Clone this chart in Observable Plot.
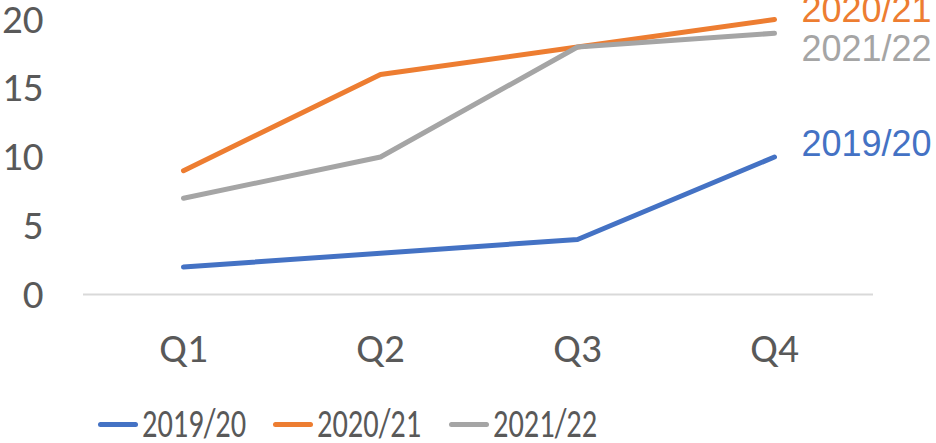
<!DOCTYPE html>
<html><head><meta charset="utf-8">
<script src="https://cdn.jsdelivr.net/npm/d3@7"></script>
<script src="https://cdn.jsdelivr.net/npm/@observablehq/plot@0.6"></script>
<style>
body{margin:0;background:#fff;width:936px;height:443px;overflow:hidden;}
#legend{position:relative;height:63px;font-family:Carlito,Lato,"Open Sans",sans-serif;color:#595959;}
.item{position:absolute;top:24px;height:40px;display:flex;align-items:center;}
.sw{width:40px;height:5px;border-radius:3px;margin-right:4px;}
.lbl{font-size:40px;line-height:40px;display:inline-block;transform:scaleX(0.76);transform-origin:left center;white-space:nowrap;}
</style></head><body><div id="chart"></div><div id="legend"></div>
<script>
const quarters = ["Q1", "Q2", "Q3", "Q4"];
const seriesNames = ["2019/20", "2020/21", "2021/22"];
const values1920 = [2, 3, 4, 10];
const values2021 = [9, 16, 18, 20];
const values2122 = [7, 10, 18, 19];
const seriesColors = ["#4472C4", "#ED7D31", "#A5A5A5"];
const yTicks = [0, 5, 10, 15, 20];

const allValues = [values1920, values2021, values2122];
const rows = [];
seriesNames.forEach((s, i) => quarters.forEach((q, j) => rows.push({series: s, quarter: q, value: allValues[i][j]})));
const last = rows.filter(d => d.quarter === quarters[quarters.length - 1]);

const labelOffsets = {"2019/20": -13, "2020/21": -9, "2021/22": 16};
const labelFont = {fontFamily: "'Liberation Sans', Arial, sans-serif", fontSize: 36};

const chart = Plot.plot({
  width: 936,
  height: 380,
  marginLeft: 83,
  marginRight: 63,
  marginTop: 19,
  marginBottom: 86,
  style: {fontFamily: "Carlito, Lato, 'Open Sans', sans-serif", fontSize: "41px", color: "#595959", background: "#fff"},
  x: {type: "point", domain: quarters, padding: 0.5, label: null},
  y: {domain: [0, 20], label: null},
  color: {domain: seriesNames, range: seriesColors},
  marks: [
    Plot.ruleY([0], {stroke: "#d9d9d9", strokeWidth: 2}),
    Plot.axisY({ticks: yTicks, tickSize: 0, tickPadding: 40, label: null, fill: "#595959"}),
    Plot.axisX({tickSize: 0, tickPadding: 38, label: null, fill: "#595959"}),
    Plot.line(rows, {x: "quarter", y: "value", z: "series", stroke: "series", strokeWidth: 5, strokeLinejoin: "round", strokeLinecap: "round"}),
    ...seriesNames.map(s => Plot.text(last.filter(d => d.series === s), {
      x: "quarter", y: "value", text: "series", fill: "series", textAnchor: "start", dx: 27, dy: labelOffsets[s], ...labelFont
    }))
  ]
});
document.getElementById("chart").appendChild(chart);

const legendLefts = [98, 273, 449];
const legend = document.getElementById("legend");
seriesNames.forEach((s, i) => {
  const item = document.createElement("div");
  item.className = "item";
  item.style.left = legendLefts[i] + "px";
  item.innerHTML = `<div class="sw" style="background:${seriesColors[i]}"></div><span class="lbl">${s}</span>`;
  legend.appendChild(item);
});
</script></body></html>
